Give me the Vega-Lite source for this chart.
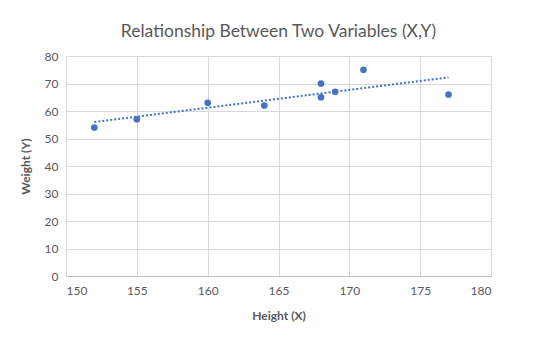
{
  "$schema": "https://vega.github.io/schema/vega-lite/v6.json",
  "width": 425,
  "height": 220,
  "autosize": {"type": "none"},
  "padding": {"left": 66, "top": 56, "right": 53, "bottom": 68},
  "background": "white",
  "title": {
    "text": "Relationship Between Two Variables (X,Y)",
    "font": "Lato",
    "fontSize": 17.5,
    "fontWeight": "normal",
    "color": "#595959",
    "anchor": "middle",
    "offset": 10
  },
  "datasets": {
    "points": [
      {"height": 152, "weight": 54},
      {"height": 155, "weight": 57},
      {"height": 160, "weight": 63},
      {"height": 164, "weight": 62},
      {"height": 168, "weight": 70},
      {"height": 168, "weight": 65},
      {"height": 169, "weight": 67},
      {"height": 171, "weight": 75},
      {"height": 177, "weight": 66}
    ],
    "trend": [
      {"height": 152, "weight": 56.0},
      {"height": 177, "weight": 72.2}
    ]
  },
  "encoding": {
    "x": {
      "field": "height",
      "type": "quantitative",
      "scale": {"domain": [150, 180], "nice": false, "zero": false},
      "axis": {"title": "Height (X)", "values": [150, 155, 160, 165, 170, 175, 180]}
    },
    "y": {
      "field": "weight",
      "type": "quantitative",
      "scale": {"domain": [0, 80], "nice": false},
      "axis": {"title": "Weight (Y)", "values": [0, 10, 20, 30, 40, 50, 60, 70, 80], "domain": false, "labelOverlap": false}
    }
  },
  "layer": [
    {
      "data": {"name": "trend"},
      "mark": {"type": "line", "color": "#4472C4", "strokeWidth": 2, "strokeDash": [2, 2]}
    },
    {
      "data": {"name": "points"},
      "mark": {"type": "point", "filled": true, "color": "#4472C4", "size": 45, "opacity": 1}
    }
  ],
  "config": {
    "view": {"stroke": null},
    "axis": {
      "labelFont": "Lato",
      "labelFontSize": 12,
      "labelColor": "#595959",
      "titleFont": "Lato",
      "titleFontSize": 12,
      "titleFontWeight": "bold",
      "titleColor": "#595959",
      "gridColor": "#d9d9d9",
      "gridWidth": 1,
      "ticks": false,
      "domainColor": "#bfbfbf"
    },
    "axisX": {"labelPadding": 9, "titlePadding": 14},
    "axisY": {"labelPadding": 8, "titlePadding": 12}
  }
}
